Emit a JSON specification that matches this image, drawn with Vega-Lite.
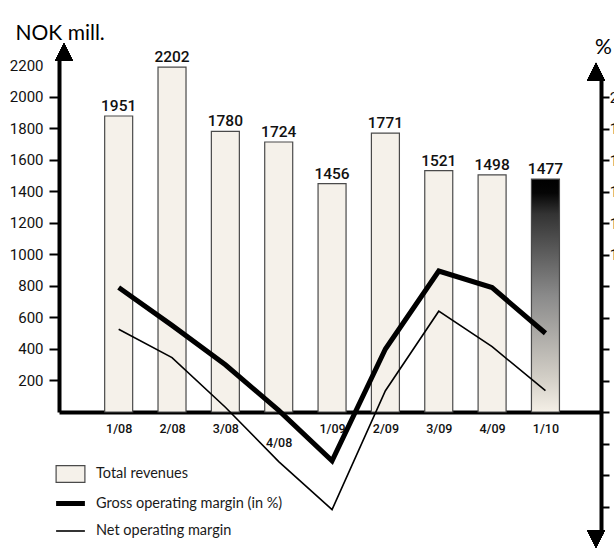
{
  "$schema": "https://vega.github.io/schema/vega-lite/v6.json",
  "width": 542,
  "height": 353,
  "autosize": {"type": "none"},
  "padding": {"left": 59, "top": 59, "right": 13, "bottom": 136},
  "background": "white",
  "config": {"view": {"stroke": null}, "font": "Roboto"},
  "data": {
    "values": [
      {"q": "1/08", "i": 0, "rev": 1879, "label": "1951", "gross": 7.9, "net": 5.25},
      {"q": "2/08", "i": 1, "rev": 2189, "label": "2202", "gross": 5.5, "net": 3.45},
      {"q": "3/08", "i": 2, "rev": 1782, "label": "1780", "gross": 3.0, "net": 0.3},
      {"q": "4/08", "i": 3, "rev": 1714, "label": "1724", "gross": 0.1, "net": -3.15},
      {"q": "1/09", "i": 4, "rev": 1450, "label": "1456", "gross": -3.1, "net": -6.2},
      {"q": "2/09", "i": 5, "rev": 1770, "label": "1771", "gross": 4.0, "net": 1.35},
      {"q": "3/09", "i": 6, "rev": 1532, "label": "1521", "gross": 8.95, "net": 6.4},
      {"q": "4/09", "i": 7, "rev": 1505, "label": "1498", "gross": 7.9, "net": 4.15},
      {"q": "1/10", "i": 8, "rev": 1479, "label": "1477", "gross": 5.0, "net": 1.35}
    ]
  },
  "layer": [
    {
      "layer": [
        {
          "transform": [{"filter": "datum.q != '1/10'"}],
          "mark": {"type": "bar", "size": 28, "fill": "#f5f1ea", "stroke": "#4a4a4a", "strokeWidth": 1.2},
          "encoding": {
            "x": {
              "field": "i", "type": "quantitative",
              "scale": {"domain": [-1.0248, 8.9476], "nice": false, "zero": false},
              "axis": {
                "values": [0, 1, 2, 3, 4, 5, 6, 7, 8],
                "labelExpr": "['1/08','2/08','3/08','4/08','1/09','2/09','3/09','4/09','1/10'][datum.value]",
                "ticks": false, "tickSize": 0, "grid": false, "title": null,
                "domainColor": "#000000", "domainWidth": 4,
                "labelFont": "Roboto", "labelFontSize": 12.5, "labelFontWeight": 500, "labelColor": "#111111",
                "labelPadding": {"condition": {"test": "datum.value == 3", "value": 24}, "value": 10},
                "labelFlush": false, "labelOverlap": false
              }
            },
            "y": {
              "field": "rev", "type": "quantitative",
              "scale": {"domain": [0, 2241], "nice": false, "zero": false},
              "axis": {
                "orient": "left",
                "values": [200, 400, 600, 800, 1000, 1200, 1400, 1600, 1800, 2000, 2200],
                "format": "d",
                "title": "NOK mill.", "titleAngle": 0, "titleAlign": "left", "titleBaseline": "middle",
                "titleX": -44, "titleY": -26, "titleFont": "Lato", "titleFontSize": 21, "titleFontWeight": "normal", "titleColor": "#000000",
                "domainColor": "#000000", "domainWidth": 4,
                "tickColor": {"condition": {"test": "datum.value == 2200", "value": "transparent"}, "value": "#000000"},
                "tickWidth": 2, "tickSize": 10,
                "labelFont": "Roboto", "labelFontSize": 15, "labelColor": "#111111", "labelPadding": 6,
                "grid": false, "labelOverlap": false
              }
            }
          }
        },
        {
          "transform": [{"filter": "datum.q == '1/10'"}],
          "mark": {
            "type": "bar", "size": 28, "stroke": "#4a4a4a", "strokeWidth": 1.2,
            "fill": {
              "gradient": "linear", "x1": 0, "y1": 0, "x2": 0, "y2": 1,
              "stops": [
                {"offset": 0, "color": "#000000"},
                {"offset": 0.06, "color": "#050505"},
                {"offset": 0.15, "color": "#333333"},
                {"offset": 0.5, "color": "#8a8a8a"},
                {"offset": 0.85, "color": "#d2cec6"},
                {"offset": 1, "color": "#f4efe6"}
              ]
            }
          },
          "encoding": {
            "x": {"field": "i", "type": "quantitative", "scale": {"domain": [-1.0248, 8.9476], "nice": false, "zero": false}, "axis": null},
            "y": {"field": "rev", "type": "quantitative", "axis": null}
          }
        },
        {
          "mark": {"type": "text", "font": "Roboto", "fontSize": 15.5, "fontWeight": 500, "baseline": "alphabetic", "dy": -5, "color": "#111111"},
          "encoding": {
            "x": {"field": "i", "type": "quantitative", "scale": {"domain": [-1.0248, 8.9476], "nice": false, "zero": false}, "axis": null},
            "y": {"field": "rev", "type": "quantitative", "axis": null},
            "text": {"field": "label"}
          }
        },
        {
          "mark": {"type": "point", "filled": true, "color": "#000000", "opacity": 1, "size": 324, "shape": "M0,-1L1,1L-1,1Z"},
          "encoding": {
            "x": {"datum": -1.0248, "type": "quantitative", "scale": {"domain": [-1.0248, 8.9476], "nice": false, "zero": false}, "axis": null},
            "y": {"datum": 2286, "type": "quantitative", "axis": null}
          }
        }
      ],
      "resolve": {"axis": {"x": "independent", "y": "independent"}}
    },
    {
      "layer": [
        {
          "mark": {"type": "line", "color": "#000000", "strokeWidth": 5, "strokeJoin": "miter", "strokeCap": "butt"},
          "encoding": {
            "x": {"field": "i", "type": "quantitative", "scale": {"domain": [-1.0248, 8.9476], "nice": false, "zero": false}, "axis": null},
            "y": {
              "field": "gross", "type": "quantitative",
              "scale": {"domain": [-7.746, 21.08], "range": [475, 21], "nice": false, "zero": false},
              "axis": {
                "orient": "right",
                "values": [-6, -4, -2, 0, 2, 4, 6, 8, 10, 12, 14, 16, 18, 20],
                "labelExpr": "datum.value < 0 ? '' : datum.label",
                "title": "%", "titleAngle": 0, "titleAlign": "center", "titleBaseline": "middle",
                "titleX": 2, "titleY": -12, "titleFont": "Lato", "titleFontSize": 21, "titleFontWeight": "normal", "titleColor": "#000000",
                "domainColor": "#000000", "domainWidth": 4,
                "tickColor": "#000000", "tickWidth": 2, "tickSize": 8,
                "labelFont": "Roboto", "labelFontSize": 15, "labelColor": "#111111", "labelAlign": "right", "labelPadding": 17,
                "grid": false, "labelOverlap": false
              }
            }
          }
        },
        {
          "mark": {"type": "line", "color": "#000000", "strokeWidth": 1.6, "strokeJoin": "miter"},
          "encoding": {
            "x": {"field": "i", "type": "quantitative", "scale": {"domain": [-1.0248, 8.9476], "nice": false, "zero": false}, "axis": null},
            "y": {"field": "net", "type": "quantitative", "axis": null}
          }
        },
        {
          "mark": {"type": "point", "filled": true, "color": "#000000", "opacity": 1, "size": 324, "shape": "M0,-1L1,1L-1,1Z"},
          "encoding": {
            "x": {"datum": 8.9476, "type": "quantitative", "scale": {"domain": [-1.0248, 8.9476], "nice": false, "zero": false}, "axis": null},
            "y": {"datum": 21.6, "type": "quantitative", "axis": null}
          }
        },
        {
          "mark": {"type": "point", "filled": true, "color": "#000000", "opacity": 1, "size": 324, "shape": "M0,1L1,-1L-1,-1Z"},
          "encoding": {
            "x": {"datum": 8.9476, "type": "quantitative", "scale": {"domain": [-1.0248, 8.9476], "nice": false, "zero": false}, "axis": null},
            "y": {"datum": -8.06, "type": "quantitative", "axis": null}
          }
        },
        {
          "transform": [{"fold": ["rev", "gross", "net"], "as": ["key", "val"]}],
          "mark": {"type": "point", "opacity": 0},
          "encoding": {
            "x": {"field": "i", "type": "quantitative", "scale": {"domain": [-1.0248, 8.9476], "nice": false, "zero": false}, "axis": null},
            "y": {"datum": 0, "type": "quantitative", "axis": null},
            "shape": {
              "field": "key", "type": "nominal",
              "scale": {"domain": ["rev", "gross", "net"], "range": ["M-1.2,-0.7H1.2V0.7H-1.2Z", "M-1.2,0H1.2", "M-1.2,0H1.2"]},
              "legend": {
                "orient": "none", "legendX": -3, "legendY": 402, "title": null, "padding": 0,
                "symbolSize": 576, "labelFont": "Lato", "labelFontSize": 14.5, "labelColor": "#1a1a1a", "labelLimit": 400,
                "labelOffset": 11, "rowPadding": 4, "symbolOpacity": 1,
                "labelExpr": "datum.value == 'rev' ? 'Total revenues' : datum.value == 'gross' ? 'Gross operating margin (in %)' : 'Net operating margin'"
              }
            },
            "fill": {
              "field": "key", "type": "nominal",
              "scale": {"domain": ["rev", "gross", "net"], "range": ["#f5f1ea", "transparent", "transparent"]},
              "legend": {
                "orient": "none", "legendX": -3, "legendY": 402, "title": null, "padding": 0,
                "symbolSize": 576, "labelFont": "Lato", "labelFontSize": 14.5, "labelColor": "#1a1a1a", "labelLimit": 400,
                "labelOffset": 11, "rowPadding": 4, "symbolOpacity": 1,
                "labelExpr": "datum.value == 'rev' ? 'Total revenues' : datum.value == 'gross' ? 'Gross operating margin (in %)' : 'Net operating margin'"
              }
            },
            "stroke": {
              "field": "key", "type": "nominal",
              "scale": {"domain": ["rev", "gross", "net"], "range": ["#4a4a4a", "#000000", "#000000"]},
              "legend": {
                "orient": "none", "legendX": -3, "legendY": 402, "title": null, "padding": 0,
                "symbolSize": 576, "labelFont": "Lato", "labelFontSize": 14.5, "labelColor": "#1a1a1a", "labelLimit": 400,
                "labelOffset": 11, "rowPadding": 4, "symbolOpacity": 1,
                "labelExpr": "datum.value == 'rev' ? 'Total revenues' : datum.value == 'gross' ? 'Gross operating margin (in %)' : 'Net operating margin'"
              }
            },
            "strokeWidth": {
              "field": "key", "type": "nominal",
              "scale": {"type": "ordinal", "domain": ["rev", "gross", "net"], "range": [1.2, 5, 1.6]},
              "legend": {
                "orient": "none", "legendX": -3, "legendY": 402, "title": null, "padding": 0,
                "symbolSize": 576, "labelFont": "Lato", "labelFontSize": 14.5, "labelColor": "#1a1a1a", "labelLimit": 400,
                "labelOffset": 11, "rowPadding": 4, "symbolOpacity": 1,
                "labelExpr": "datum.value == 'rev' ? 'Total revenues' : datum.value == 'gross' ? 'Gross operating margin (in %)' : 'Net operating margin'"
              }
            }
          }
        }
      ],
      "resolve": {"axis": {"x": "independent", "y": "independent"}}
    }
  ],
  "resolve": {"scale": {"y": "independent"}, "axis": {"x": "independent"}}
}
